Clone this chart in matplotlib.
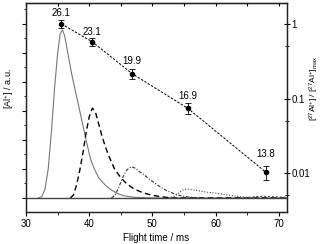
import numpy as np
import matplotlib
matplotlib.use("Agg")
import matplotlib.pyplot as plt
from matplotlib.ticker import MultipleLocator, FixedLocator, FixedFormatter, NullFormatter

plt.rcParams['font.family'] = ['Liberation Sans', 'DejaVu Sans']
plt.rcParams['mathtext.fontset'] = 'custom'
plt.rcParams['mathtext.rm'] = 'Liberation Sans'
plt.rcParams['mathtext.it'] = 'Liberation Sans:italic'

# Signal traces (left axis, arbitrary units)
t_solid = [32.0, 32.5, 33.0, 33.5, 34.0, 34.5, 35.0, 35.4, 35.75, 36.1, 36.6, 37.2,
           37.8, 38.4, 39.0, 39.6, 40.2, 40.8, 41.5, 42.5, 43.5, 44.5, 45.5, 47.0, 50.0, 71.3]
y_solid = [0.0, 0.1, 0.6, 2.0, 4.5, 7.5, 10.0, 11.3, 11.6, 11.2, 10.0, 8.6,
           7.4, 6.2, 5.0, 3.8, 2.7, 2.0, 1.4, 0.9, 0.55, 0.3, 0.15, 0.05, 0.0, 0.0]

t_dash = [37.0, 37.5, 38.0, 38.5, 39.0, 39.5, 40.0, 40.5, 41.0, 41.5, 42.0, 42.5, 43.0,
          43.5, 44.0, 44.5, 45.0, 46.0, 47.0, 48.0, 49.0, 50.0, 51.5, 53.0, 71.3]
y_dash = [0.0, 0.2, 0.9, 1.9, 3.1, 4.5, 5.6, 6.2, 5.9, 5.1, 4.3, 3.6, 3.0,
          2.5, 2.0, 1.7, 1.4, 0.95, 0.65, 0.45, 0.3, 0.18, 0.08, 0.0, 0.0]

t_dashdot = [43.5, 44.0, 44.5, 45.0, 45.5, 46.0, 46.7, 47.3, 48.0, 48.7, 49.5, 50.3,
             51.2, 52.2, 53.3, 54.5, 56.0, 58.0]
y_dashdot = [0.0, 0.15, 0.55, 1.1, 1.6, 1.95, 2.15, 2.05, 1.8, 1.6, 1.3, 1.05,
             0.78, 0.52, 0.32, 0.15, 0.05, 0.0]

t_dot = [52.5, 53.5, 54.2, 54.8, 55.4, 56.2, 57.0, 58.0, 59.0, 60.0, 61.0, 62.0,
         63.0, 64.0, 65.5, 67.0]
y_dot = [0.0, 0.1, 0.35, 0.55, 0.62, 0.58, 0.52, 0.44, 0.38, 0.33, 0.27, 0.2,
         0.14, 0.08, 0.03, 0.0]

t_small = [64.0, 65.5, 66.5, 67.5, 68.5, 69.5, 70.5, 71.3]
y_small = [0.0, 0.05, 0.1, 0.12, 0.1, 0.08, 0.06, 0.05]

# Normalised peak intensities (right axis, log)
t_peak = [35.6, 40.5, 46.8, 55.6, 68.0]
r_peak = [1.0, 0.575, 0.215, 0.074, 0.0102]
r_err = [0.12, 0.07, 0.03, 0.012, 0.0022]
peak_labels = ["26.1", "23.1", "19.9", "16.9", "13.8"]
label_offsets = [8, 7, 9.4, 8.6, 13]

fig = plt.figure(figsize=(3.22, 2.44), dpi=100)
ax = fig.add_axes([0.081, 0.131, 0.81, 0.857])

ax.plot(t_solid, y_solid, color="#777777", lw=0.8, ls="-")
ax.plot(t_dash, y_dash, color="black", lw=1.0, ls=(0, (4, 2.5)))
ax.plot(t_dashdot, y_dashdot, color="#333333", lw=0.8, ls=(0, (3, 1.5, 1, 1.5)))
ax.plot(t_dot, y_dot, color="#444444", lw=0.8, ls=(0, (1, 1.5)))
ax.plot(t_small, y_small, color="#555555", lw=0.8, ls=(0, (2, 1.5)))
ax.axhline(0, color="#444444", lw=1.0)

ax.set_xlim(30, 71.3)
ax.set_ylim(-0.97, 13.45)
ax.xaxis.set_major_locator(MultipleLocator(10))
ax.xaxis.set_minor_locator(MultipleLocator(5))
ax.yaxis.set_major_locator(MultipleLocator(2))
ax.yaxis.set_minor_locator(MultipleLocator(1))
ax.yaxis.set_major_formatter(NullFormatter())
ax.tick_params(axis="x", which="both", direction="out", top=False, labelsize=7, pad=2)
ax.tick_params(axis="x", which="major", length=3)
ax.tick_params(axis="x", which="minor", length=2)
ax.tick_params(axis="y", which="major", direction="out", length=3)
ax.tick_params(axis="y", which="minor", direction="out", length=1.5)
ax.set_xlabel("Flight time / ms", fontsize=7, labelpad=3)
ax.set_ylabel(r"[Al$^{+}$] / a.u.", fontsize=6.5, labelpad=6)
ax.yaxis.set_label_coords(-0.04, 0.59)

# top ticks every 5
secx = ax.secondary_xaxis("top")
secx.xaxis.set_major_locator(MultipleLocator(5))
secx.xaxis.set_major_formatter(NullFormatter())
secx.tick_params(direction="in", length=2.5)

ax2 = ax.twinx()
ax2.set_yscale("log")
ax2.set_ylim(0.0030, 1.914)
ax2.errorbar(t_peak, r_peak, yerr=r_err, fmt="o", color="black", ms=3,
             elinewidth=0.6, capsize=2, capthick=0.6, zorder=5)
ax2.plot(t_peak, r_peak, color="black", lw=0.7, ls=(0, (2.5, 1.5)))
for x, y, s, off in zip(t_peak, r_peak, peak_labels, label_offsets):
    ax2.annotate(s, (x, y), xytext=(0, off), textcoords="offset points",
                 ha="center", va="center", fontsize=7)
ax2.yaxis.set_major_locator(FixedLocator([0.01, 0.1, 1]))
ax2.yaxis.set_major_formatter(FixedFormatter(["0.01", "0.1", "1"]))
ax2.yaxis.set_minor_locator(FixedLocator([0.005, 0.05, 0.5]))
ax2.yaxis.set_minor_formatter(NullFormatter())
ax2.tick_params(axis="y", which="major", direction="inout", length=4, labelsize=7, pad=1.5)
ax2.tick_params(axis="y", which="minor", direction="inout", length=2.5)
ax2.set_ylabel(r"[$^{27}$Al$^{+}$] / [$^{27}$Al$^{+}$]$_{\rm max}$", fontsize=6,
               rotation=90, labelpad=3)
ax2.yaxis.set_label_coords(1.08, 0.59)

for a in (ax, ax2):
    for sp in a.spines.values():
        sp.set_linewidth(0.9)
        sp.set_color("#222222")

fig.savefig("out.png", dpi=100)
